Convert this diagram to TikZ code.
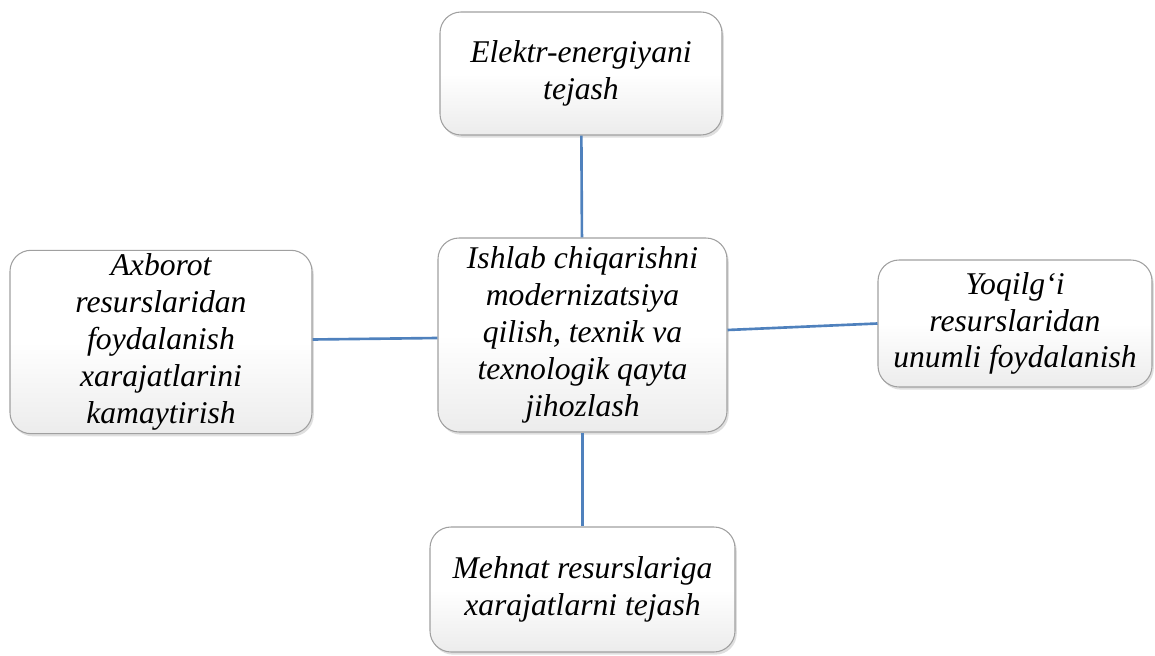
\documentclass[tikz,border=0pt]{standalone}
\usepackage{fontspec}
\setmainfont{Liberation Serif}
\usepackage{xcolor}
\definecolor{linkblue}{RGB}{79,129,189}
\definecolor{boxgray}{RGB}{160,160,160}
\usetikzlibrary{positioning, shadows}
\tikzset{
  roundbox/.style={
    rectangle, draw=boxgray, line width=0.6pt,
    top color=white, bottom color=gray!15, middle color=white,
    rounded corners=12pt, align=center,
    inner sep=2pt, font=\fontsize{18}{21}\selectfont\itshape,
    drop shadow={opacity=0.25, shadow xshift=1pt, shadow yshift=-1.5pt}},
  link/.style={line width=1.5pt, linkblue},
}
\begin{document}
\begin{tikzpicture}
  \useasboundingbox (0,0) rectangle (23.1,13.1);
  \node[roundbox, minimum width=5.78cm, minimum height=3.88cm] (core) at (11.65,6.4)
    {Ishlab chiqarishni\\modernizatsiya\\qilish, texnik va\\texnologik qayta\\jihozlash};
  \node[roundbox, minimum width=5.64cm, minimum height=2.46cm] (energy) at (11.62,11.63)
    {Elektr-energiyani\\tejash};
  \node[roundbox, minimum width=6.04cm, minimum height=3.6cm] (info) at (3.22,6.26)
    {Axborot\\resurslaridan\\foydalanish\\xarajatlarini\\kamaytirish};
  \node[roundbox, minimum width=5.48cm, minimum height=2.54cm] (fuel) at (20.3,6.63)
    {Yoqilg\char"2018i\\resurslaridan\\unumli foydalanish};
  \node[roundbox, minimum width=6.1cm, minimum height=2.5cm] (labour) at (11.65,1.31)
    {Mehnat resurslariga\\xarajatlarni tejash};
  % links between the boxes
  \draw[link] (energy) -- (core);
  \draw[link] (core) -- (labour);
  \draw[link] ([yshift=0.05cm]info.east) -- ([yshift=-0.06cm]core.west);
  \draw[link] ([yshift=0.1cm]core.east) -- (fuel.west);
\end{tikzpicture}
\end{document}
